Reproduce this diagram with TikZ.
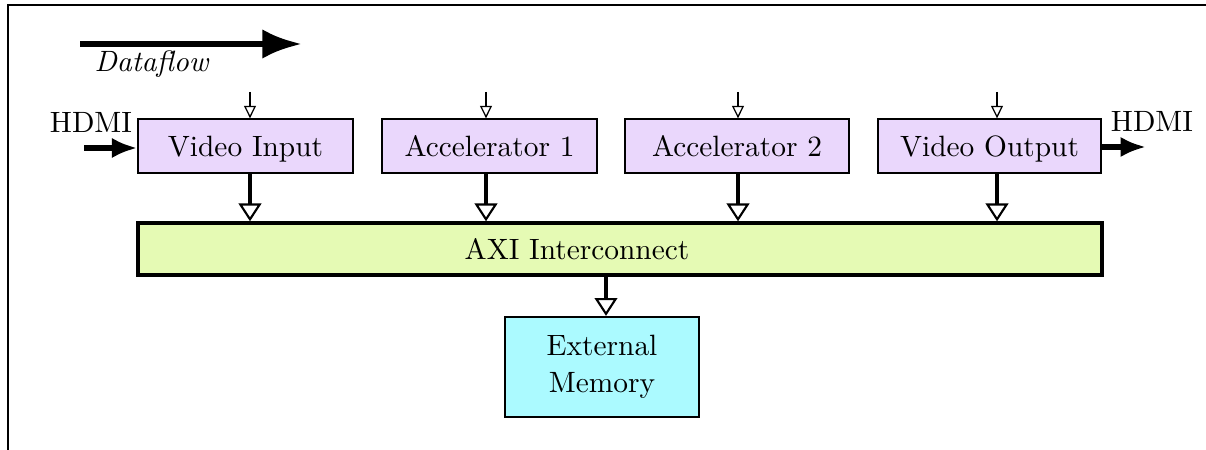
\documentclass[tikz,border=0pt]{standalone}
\usetikzlibrary{arrows.meta}
\definecolor{boxpurple}{RGB}{234,215,252}
\definecolor{axigreen}{RGB}{229,250,180}
\definecolor{memcyan}{RGB}{171,250,255}
\begin{document}
\begin{tikzpicture}[x=0.0124378cm,y=-0.0124378cm,
  every node/.style={font=\fontsize{10.4}{13.2}\selectfont},
  block/.style={draw,line width=0.45pt,fill=boxpurple,inner sep=0pt,minimum height=19.11pt,text depth=0pt},
  ctrlarr/.style={line width=0.45pt,-{Triangle[open,length=4.4pt,width=4.2pt]}},
  busarr/.style={line width=1.4pt,-{Triangle[open,length=6.3pt,width=8pt,line width=0.75pt]}},
  ioarr/.style={line width=2pt,-{Latex[length=9pt,width=7.2pt]}},
  lbl/.style={inner sep=0pt}]
\useasboundingbox (0,0) rectangle (1206,450);
\clip (0,0) rectangle (1206,450);
% frame
\draw[line width=0.9pt] (8,5) rectangle (1400,700);
% dataflow
\coordinate (dfa) at (80,44);
\coordinate (dfb) at (302,44);
\draw[line width=2.4pt,-{Latex[length=14pt,width=10.4pt]}] (dfa) -- (dfb);
\node[lbl] (dftxt) at (152,64) {\textit{Dataflow}};
% blocks
\node[block,minimum width=76.09pt] (vin) at (245.5,146) {Video Input};
\node[block,minimum width=76.09pt] (acc1) at (489.5,146) {Accelerator 1};
\node[block,minimum width=79.27pt] (acc2) at (737,146) {Accelerator 2};
\node[block,minimum width=78.92pt] (vout) at (989.5,146) {Video Output};
\node[draw,line width=1.2pt,fill=axigreen,inner sep=0pt,minimum width=341.15pt,minimum height=18.4pt] (axi) at (620,249) {};
\node[lbl,text depth=0pt] (axitxt) at (577,249) {AXI Interconnect};
\node[draw,line width=0.8pt,fill=memcyan,inner sep=0pt,minimum width=68.65pt,minimum height=35.39pt,align=center] (mem) at (602,367) {External\\Memory};
% control arrows
\coordinate (c1) at (250,92);
\coordinate (c2) at (486,92);
\coordinate (c3) at (738,92);
\coordinate (c4) at (997,92);
\draw[ctrlarr] (c1) -- (c1 |- vin.north);
\draw[ctrlarr] (c2) -- (c2 |- acc1.north);
\draw[ctrlarr] (c3) -- (c3 |- acc2.north);
\draw[ctrlarr] (c4) -- (c4 |- vout.north);
% bus arrows
\draw[busarr] (c1 |- vin.south) -- (c1 |- axi.north);
\draw[busarr] (c2 |- acc1.south) -- (c2 |- axi.north);
\draw[busarr] (c3 |- acc2.south) -- (c3 |- axi.north);
\draw[busarr] (c4 |- vout.south) -- (c4 |- axi.north);
\coordinate (m1) at (606,300);
\draw[busarr] (m1 |- axi.south) -- (m1 |- mem.north);
% HDMI
\node[lbl] (hin) at (91,122) {HDMI};
\node[lbl] (hout) at (1152,121) {HDMI};
\coordinate (hina) at (84,148);
\coordinate (houtb) at (1146,147);
\draw[ioarr] (hina) -- (hina -| vin.west);
\draw[ioarr] (houtb -| vout.east) -- (houtb);
\end{tikzpicture}
\end{document}
